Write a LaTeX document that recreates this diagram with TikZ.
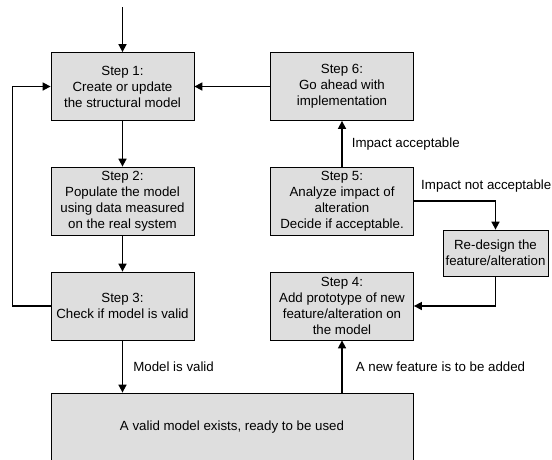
\documentclass[tikz,border=0pt]{standalone}
\usepackage{fontspec}
\setmainfont{Liberation Sans}
\usetikzlibrary{arrows.meta}
\tikzset{
    stepbox/.style={draw, fill=black!13, line width=0.8pt, minimum width=143pt,
        minimum height=68pt, align=center, inner sep=2pt},
    flow/.style={line width=1.6pt, -{Triangle[length=8pt,width=8pt]}},
    lbl/.style={inner sep=0pt}
}
\begin{document}
\begin{tikzpicture}[x=1pt,y=-1pt,font=\fontsize{13.3}{16}\selectfont]
    \useasboundingbox (0,0) rectangle (552,459);
    \coordinate (entry) at (122.5,7);
    \node[stepbox] (s1) at (122.5,86.5) {Step 1:\\Create or update\\the structural model};
    \node[stepbox] (s2) at (122.5,201) {Step 2:\\Populate the model\\using data measured\\on the real system};
    \node[stepbox] (s3) at (122.5,306) {Step 3:\\Check if model is valid};
    \node[stepbox] (s6) at (342,86.5) {Step 6:\\Go ahead with\\implementation};
    \node[stepbox] (s5) at (342,201) {Step 5:\\Analyze impact of\\alteration\\Decide if acceptable.};
    \node[stepbox] (s4) at (342,306) {Step 4:\\Add prototype of new\\feature/alteration on\\the model};
    \node[stepbox, minimum width=105pt, minimum height=46pt] (redesign) at (495.5,253) {Re-design the\\feature/alteration};
    \node[stepbox, minimum width=362pt] (valid) at (232,427) {A valid model exists, ready to be used};
    \draw[flow] (entry) -- (s1);
    \draw[flow] (s1) -- (s2);
    \draw[flow] (s2) -- (s3);
    \draw[flow] (s3) -- node[lbl, right=10pt] {Model is valid} (s3.south |- valid.north);
    \draw[flow] (s3.west) -- ++(-38,0) |- (s1.west);
    \draw[flow] (s6) -- (s1);
    \draw[flow] (s5) -- node[lbl, right=9pt] {Impact acceptable} (s6);
    \draw[flow] (s5.east) -| node[lbl, pos=0.04, anchor=west, yshift=15pt] {Impact not acceptable} (redesign.north);
    \draw[flow] (redesign.south) |- (s4.east);
    \draw[flow] (s4.south |- valid.north) -- node[lbl, right=13pt] {A new feature is to be added} (s4);
\end{tikzpicture}
\end{document}
